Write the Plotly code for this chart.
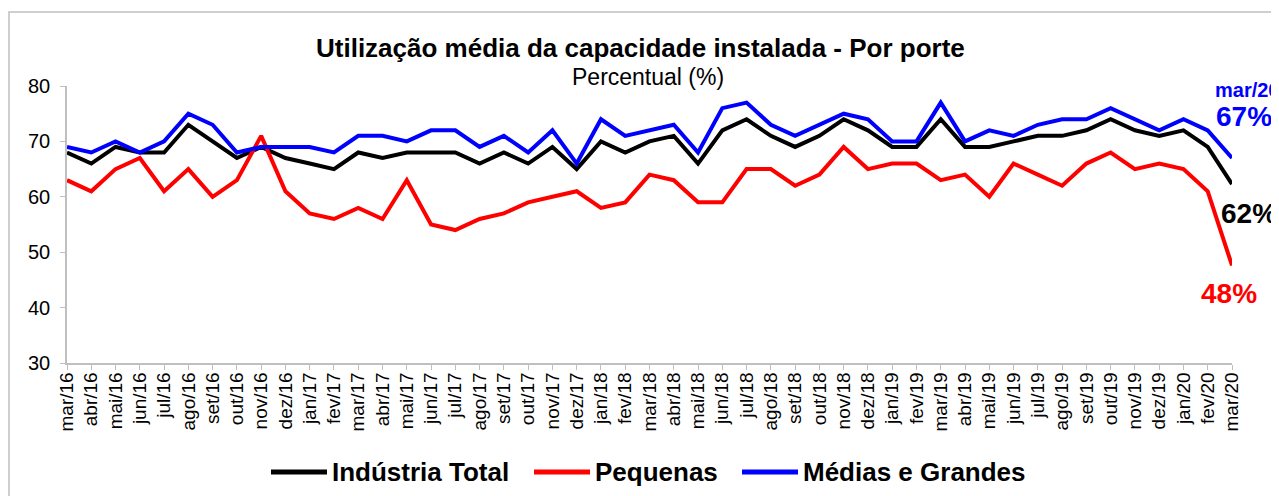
import plotly.graph_objects as go

months = ["mar/16","abr/16","mai/16","jun/16","jul/16","ago/16","set/16","out/16","nov/16","dez/16",
          "jan/17","fev/17","mar/17","abr/17","mai/17","jun/17","jul/17","ago/17","set/17","out/17","nov/17","dez/17",
          "jan/18","fev/18","mar/18","abr/18","mai/18","jun/18","jul/18","ago/18","set/18","out/18","nov/18","dez/18",
          "jan/19","fev/19","mar/19","abr/19","mai/19","jun/19","jul/19","ago/19","set/19","out/19","nov/19","dez/19",
          "jan/20","fev/20","mar/20"]

industria_total = [68,66,69,68,68,73,70,67,69,67,
                   66,65,68,67,68,68,68,66,68,66,69,65,
                   70,68,70,71,66,72,74,71,69,71,74,72,
                   69,69,74,69,69,70,71,71,72,74,72,71,
                   72,69,62.3]

pequenas = [63,61,65,67,61,65,60,63,71,61,
            57,56,58,56,63,55,54,56,57,59,60,61,
            58,59,64,63,59,59,65,65,62,64,69,65,
            66,66,63,64,60,66,64,62,66,68,65,66,
            65,61,47.6]

medias_grandes = [69,68,70,68,70,75,73,68,69,69,
                  69,68,71,71,70,72,72,69,71,68,72,66,
                  74,71,72,73,68,76,77,73,71,73,75,74,
                  70,70,77,70,72,71,73,74,74,76,74,72,
                  74,72,67]

series_names = ["Indústria Total", "Pequenas", "Médias e Grandes"]
series_colors = ["#000000", "#FF0000", "#0000FF"]

FONT = "Liberation Sans, Arial, sans-serif"
OFF = 8  # page body margin
W, H = 1279 - OFF, 496 - OFF
L, R, T, B = 67 - OFF, 47, 86 - OFF, 133
PW = W - L - R
PH = H - T - B

def px_x(px):
    return (px - OFF - L) / PW

def px_y(py):
    return (H - B - (py - OFF)) / PH

fig = go.Figure()
for name, vals, col in zip(series_names, [industria_total, pequenas, medias_grandes], series_colors):
    fig.add_trace(go.Scatter(x=months, y=vals, mode="lines", name=name,
                             line=dict(color=col, width=4), showlegend=False))

annotations = [
    dict(x=px_x(640), xref="paper", y=px_y(48), yref="paper", text="<b>Utilização média da capacidade instalada - Por porte</b>",
         showarrow=False, font=dict(family=FONT, size=26, color="#000000"), xanchor="center", yanchor="middle"),
    dict(x=px_x(648), xref="paper", y=px_y(77), yref="paper", text="Percentual (%)",
         showarrow=False, font=dict(family=FONT, size=23, color="#000000"), xanchor="center", yanchor="middle"),
    dict(x=px_x(1213), xref="paper", y=px_y(90), yref="paper", text="<b>mar/20</b>", showarrow=False,
         font=dict(family=FONT, size=20, color="#0000FF"), xanchor="left", yanchor="middle"),
    dict(x=px_x(1244), xref="paper", y=px_y(116), yref="paper", text="<b>67%</b>", showarrow=False,
         font=dict(family=FONT, size=28, color="#0000FF"), xanchor="center", yanchor="middle"),
    dict(x=px_x(1249), xref="paper", y=px_y(213), yref="paper", text="<b>62%</b>", showarrow=False,
         font=dict(family=FONT, size=28, color="#000000"), xanchor="center", yanchor="middle"),
    dict(x=px_x(1229), xref="paper", y=px_y(293), yref="paper", text="<b>48%</b>", showarrow=False,
         font=dict(family=FONT, size=28, color="#FF0000"), xanchor="center", yanchor="middle"),
]

shapes = [dict(type="rect", xref="paper", yref="paper", x0=px_x(9), x1=px_x(1300), y0=px_y(520), y1=px_y(12),
               line=dict(color="#C0C0C0", width=1.5), fillcolor="rgba(0,0,0,0)", layer="below")]

# legend (manual, to match sample length / spacing)
legend_starts = [271, 534, 742]
for name, col, sx in zip(series_names, series_colors, legend_starts):
    shapes.append(dict(type="line", xref="paper", yref="paper", x0=px_x(sx), x1=px_x(sx + 56),
                       y0=px_y(472), y1=px_y(472), line=dict(color=col, width=5)))
    annotations.append(dict(x=px_x(sx + 59), xref="paper", y=px_y(472), yref="paper", text=f"<b>{name}</b>",
                            showarrow=False, font=dict(family=FONT, size=26, color="#000000"),
                            xanchor="left", yanchor="middle"))

fig.update_layout(
    width=W, height=H,
    margin=dict(l=L, r=R, t=T, b=B, autoexpand=False),
    paper_bgcolor="#FFFFFF", plot_bgcolor="#FFFFFF",
    font=dict(family=FONT, color="#000000"),
    showlegend=False,
    annotations=annotations,
    shapes=shapes,
)

fig.update_xaxes(type="category", range=[0, 48], showgrid=False, zeroline=False,
                 showline=True, linecolor="#BFBFBF", linewidth=1.5,
                 ticks="outside", ticklen=5, tickcolor="#BFBFBF", tickwidth=1,
                 tickangle=-90, tickfont=dict(family=FONT, size=19, color="#000000"),
                 ticklabelstandoff=-5,
                 tickmode="array", tickvals=months, ticktext=months, automargin=False)
fig.update_yaxes(range=[30, 80], dtick=10, showgrid=False, zeroline=False,
                 showline=True, linecolor="#BFBFBF", linewidth=1.5,
                 ticks="outside", ticklen=5, tickcolor="#BFBFBF", tickwidth=1,
                 ticklabelstandoff=6,
                 tickfont=dict(family=FONT, size=20, color="#000000"), automargin=False)

fig.write_html("out.html")
